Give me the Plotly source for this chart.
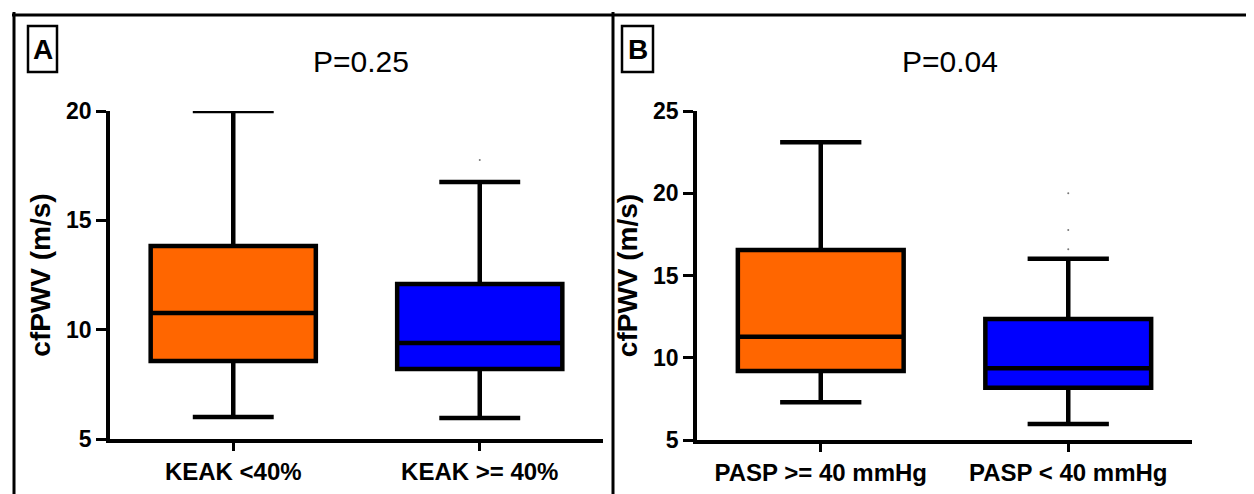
import plotly.graph_objects as go

# ---- data ----
cats_a = ["KEAK <40%", "KEAK >= 40%"]
q1_a = [8.57, 8.20]
med_a = [10.76, 9.39]
q3_a = [13.83, 12.09]
low_a = [6.01, 5.96]
high_a = [20.0, 16.75]
out_a_x = ["KEAK >= 40%"]
out_a_y = [17.76]

cats_b = ["PASP >= 40 mmHg", "PASP < 40 mmHg"]
q1_b = [9.20, 8.18]
med_b = [11.28, 9.36]
q3_b = [16.55, 12.36]
low_b = [7.29, 5.97]
high_b = [23.10, 16.02]
out_b_x = ["PASP < 40 mmHg", "PASP < 40 mmHg", "PASP < 40 mmHg"]
out_b_y = [20.0, 17.77, 16.6]

colors = ["#FF6600", "#0000FF"]
p_texts = ["P=0.25", "P=0.04"]
panel_letters = ["A", "B"]
yticks_a = [5, 10, 15, 20]
yticks_b = [5, 10, 15, 20, 25]

FONT = "Arial, Liberation Sans, Helvetica, sans-serif"

# page body has an 8px margin: build the figure 8px smaller and shift
OFF = 8
W, H = 1254 - OFF, 494 - OFF


def X(px):
    return (px - OFF) / W


def Y(py):
    return 1 - (py - OFF) / H


fig = go.Figure()


def add_boxes(cats, q1, med, q3, low, high, xa, ya):
    for i, c in enumerate(cats):
        fig.add_trace(go.Box(
            x=[c], q1=[q1[i]], median=[med[i]], q3=[q3[i]],
            lowerfence=[low[i]], upperfence=[high[i]],
            fillcolor=colors[i], line=dict(color="black", width=4.5),
            width=0.67, whiskerwidth=0.49, boxpoints=False,
            xaxis=xa, yaxis=ya, showlegend=False, hoverinfo="skip"))


add_boxes(cats_a, q1_a, med_a, q3_a, low_a, high_a, "x", "y")
add_boxes(cats_b, q1_b, med_b, q3_b, low_b, high_b, "x2", "y2")

fig.add_trace(go.Scatter(x=out_a_x, y=out_a_y, mode="markers",
                         marker=dict(size=2, color="#777777"),
                         xaxis="x", yaxis="y", showlegend=False))
fig.add_trace(go.Scatter(x=out_b_x, y=out_b_y, mode="markers",
                         marker=dict(size=2, color="#777777"),
                         xaxis="x2", yaxis="y2", showlegend=False))


def xax(domain, cats, anchor):
    return dict(domain=domain, anchor=anchor, type="category", automargin=False,
                categoryorder="array", categoryarray=cats, range=[-0.5, 1.5],
                showline=True, linecolor="black", linewidth=3.5,
                ticks="outside", ticklen=8, tickwidth=3, tickcolor="black",
                tickfont=dict(family=FONT, size=24, color="black", weight="bold"),
                showgrid=False, zeroline=False, fixedrange=True)


def yax(domain, rng, tv, anchor):
    return dict(domain=domain, anchor=anchor, range=rng, tickvals=tv, automargin=False,
                showline=True, linecolor="black", linewidth=3.5,
                ticks="outside", ticklen=10, tickwidth=3, tickcolor="black",
                tickfont=dict(family=FONT, size=23, color="black", weight="bold"),
                title=dict(text="cfPWV (m/s)", standoff=8,
                           font=dict(family=FONT, size=28, color="black", weight="bold")),
                showgrid=False, zeroline=False, fixedrange=True)


fig.update_layout(
    width=W, height=H, margin=dict(l=0, r=0, t=0, b=0, pad=0, autoexpand=False),
    paper_bgcolor="white", plot_bgcolor="white", showlegend=False,
    xaxis=xax([X(110), X(603)], cats_a, "y"),
    yaxis=yax([Y(439), Y(111)], [5, 20], yticks_a, "x"),
    xaxis2=xax([X(697), X(1192)], cats_b, "y2"),
    yaxis2=yax([Y(440), Y(111)], [5, 25], yticks_b, "x2"),
)

# frame lines
shapes = [
    dict(type="line", xref="paper", yref="paper", x0=X(12), x1=1, y0=Y(15), y1=Y(15),
         line=dict(color="black", width=3)),
    dict(type="line", xref="paper", yref="paper", x0=X(14), x1=X(14), y0=0, y1=Y(12),
         line=dict(color="black", width=3)),
    dict(type="line", xref="paper", yref="paper", x0=X(613), x1=X(613), y0=0, y1=Y(12),
         line=dict(color="black", width=3)),
]
letter_boxes = [(28, 57), (622, 653)]
for (x0, x1) in letter_boxes:
    shapes.append(dict(type="rect", xref="paper", yref="paper",
                       x0=X(x0), x1=X(x1), y0=Y(72), y1=Y(26),
                       line=dict(color="black", width=2.5), fillcolor="white"))
fig.update_layout(shapes=shapes)

annotations = []
for (x0, x1), letter in zip(letter_boxes, panel_letters):
    annotations.append(dict(text=letter, xref="paper", yref="paper",
                            x=X((x0 + x1) / 2), y=Y(49), showarrow=False,
                            xanchor="center", yanchor="middle",
                            font=dict(family=FONT, size=28, color="black", weight="bold")))
for xc, t in zip([361, 950], p_texts):
    annotations.append(dict(text=t, xref="paper", yref="paper",
                            x=X(xc), y=Y(61), showarrow=False,
                            xanchor="center", yanchor="middle",
                            font=dict(family=FONT, size=30, color="black")))
fig.update_layout(annotations=annotations)

fig.write_html("out.html")
